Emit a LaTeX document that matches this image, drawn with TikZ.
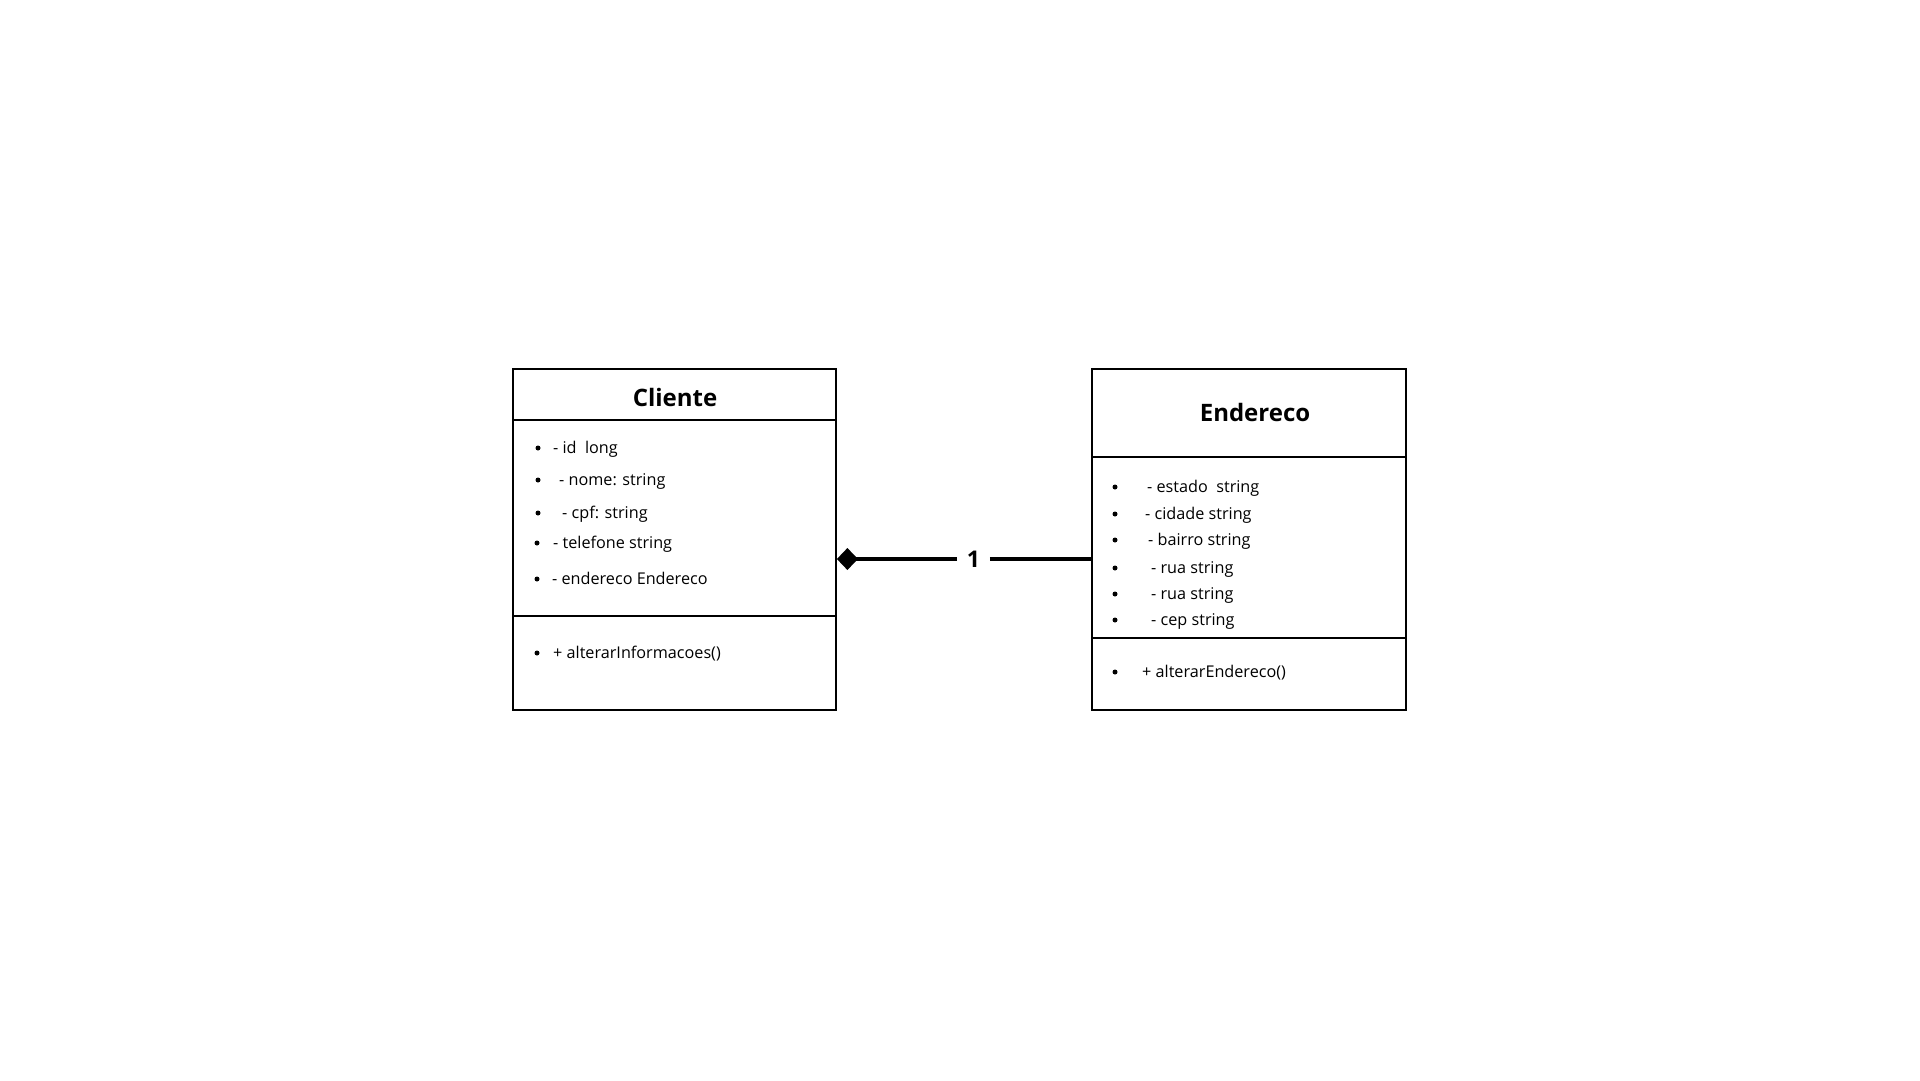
\documentclass[tikz,border=0pt]{standalone}
\usepackage{fontspec}
\setmainfont{Open Sans}
\usetikzlibrary{arrows.meta}
\begin{document}
\begin{tikzpicture}[x=1pt,y=-1pt,
  classbox/.style={draw=black, line width=1.8pt, inner sep=0pt, fill=none},
  divider/.style={line width=1.8pt},
  item/.style={anchor=base west, inner sep=0pt, font=\fontsize{16.2}{20}\selectfont},
  dot/.style={circle, fill=black, inner sep=0pt, minimum size=5pt},
  title/.style={inner sep=0pt, font=\bfseries\fontsize{24}{28}\selectfont},
  assoc/.style={line width=3.5pt},
  mult/.style={inner xsep=9.5pt, inner ysep=2pt, font=\bfseries\fontsize{23}{26}\selectfont}]
\useasboundingbox (0,0) rectangle (1920,1080);
% Cliente
\node[classbox, minimum width=323pt, minimum height=341pt] (cli) at (674.5,539.5) {};
\node[title] (clit) at (675,397) {Cliente};
\draw[divider] (cli.west |- 0,420) -- (cli.east |- 0,420);
\draw[divider] (cli.west |- 0,616) -- (cli.east |- 0,616);
\node[dot] (cb1) at (538,448) {};
\node[item] (ci1) at (553,453) {- id\ \ long};
\node[dot] (cb2) at (538,480) {};
\node[item] (ci2) at (559,485) {- nome: string};
\node[dot] (cb3) at (538,513) {};
\node[item] (ci3) at (562,518) {- cpf: string};
\node[dot] (cb4) at (537,543) {};
\node[item] (ci4) at (553,548) {- telefone string};
\node[dot] (cb5) at (537,579) {};
\node[item] (ci5) at (552,584) {- endereco Endereco};
\node[dot] (cb6) at (537,653) {};
\node[item] (cm1) at (553,658) {+ alterarInformacoes()};
% Endereco
\node[classbox, minimum width=314pt, minimum height=341pt] (end) at (1249,539.5) {};
\node[title] (endt) at (1255,412) {Endereco};
\draw[divider] (end.west |- 0,457) -- (end.east |- 0,457);
\draw[divider] (end.west |- 0,638) -- (end.east |- 0,638);
\node[dot] (eb1) at (1115,487) {};
\node[item] (ei1) at (1147,492) {- estado\ \ string};
\node[dot] (eb2) at (1115,514) {};
\node[item] (ei2) at (1145,519) {- cidade string};
\node[dot] (eb3) at (1115,540) {};
\node[item] (ei3) at (1148,545) {- bairro string};
\node[dot] (eb4) at (1115,568) {};
\node[item] (ei4) at (1151,573) {- rua string};
\node[dot] (eb5) at (1115,594) {};
\node[item] (ei5) at (1151,599) {- rua string};
\node[dot] (eb6) at (1115,620) {};
\node[item] (ei6) at (1151,625) {- cep string};
\node[dot] (eb7) at (1115,672) {};
\node[item] (em1) at (1142,677) {+ alterarEndereco()};
% association
\coordinate (ca) at (cli.east |- 0,559);
\coordinate (ea) at (end.west |- 0,559);
\node[mult] (one) at (973.5,559) {1};
\draw[assoc, -{Diamond[length=21pt,width=22pt]}] (one.west) -- (ca);
\draw[assoc] (one.east) -- (ea);
\end{tikzpicture}
\end{document}
